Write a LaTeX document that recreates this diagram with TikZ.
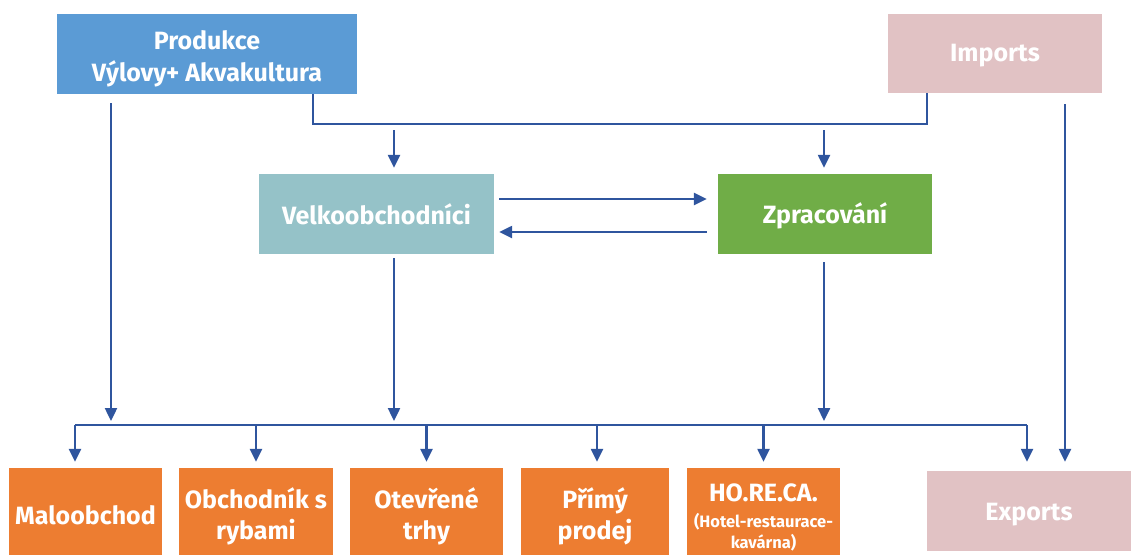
\documentclass[tikz,border=0pt]{standalone}
\usepackage{fontspec}
\setmainfont{Fira Sans}
\usetikzlibrary{arrows.meta}
\definecolor{prodblue}{HTML}{5B9BD5}
\definecolor{velkoteal}{HTML}{95C2C8}
\definecolor{zpracgreen}{HTML}{70AD47}
\definecolor{shoporange}{HTML}{ED7D31}
\definecolor{tradepink}{HTML}{E1C2C4}
\definecolor{arrowblue}{HTML}{2F559E}
\newcommand{\mydown}[2]{\raisebox{-#1}[\height][\depth]{#2}}
\begin{document}
\begin{tikzpicture}[x=1pt,y=-1pt,
  box/.style={draw=none, text=white, align=center, inner sep=0pt,
    font=\bfseries\fontsize{25}{32}\selectfont},
  shopbox/.style={box, fill=shoporange, minimum width=153pt, minimum height=87pt,
    font=\bfseries\fontsize{25}{31}\selectfont},
  arr/.style={draw=arrowblue, line width=2.4pt, -{Triangle[width=12pt,length=13pt]}},
  feed/.style={draw=arrowblue, line width=1.5pt},
]
\useasboundingbox (0,0) rectangle (1131,555);

% top boxes
\node[box, fill=prodblue, minimum width=300pt, minimum height=80pt] (prod) at (207,54)
  {\mydown{4.5pt}{Produkce}\\\mydown{4.5pt}{Výlovy+ Akvakultura}};
\node[box, fill=tradepink, minimum width=214pt, minimum height=79pt] (imp) at (995,53.5) {\mydown{2.5pt}{Imports}};

% middle boxes
\node[box, fill=velkoteal, minimum width=235pt, minimum height=80pt] (velko) at (376.5,214) {Velkoobchodníci};
\node[box, fill=zpracgreen, minimum width=214pt, minimum height=80pt] (zprac) at (825,214) {\mydown{2pt}{Zpracování}};

% bottom boxes
\node[shopbox] (malo) at (85.5,511.5) {\mydown{4pt}{Maloobchod}};
\node[shopbox, minimum width=154pt] (obch) at (256,511.5) {\mydown{4.5pt}{Obchodník s}\\\mydown{4.5pt}{rybami}};
\node[shopbox] (otev) at (426.5,511.5) {\mydown{4.5pt}{Otevřené}\\\mydown{4.5pt}{trhy}};
\node[shopbox, minimum width=148pt] (prim) at (595,511.5) {\mydown{4.5pt}{Přímý}\\\mydown{4.5pt}{prodej}};
\node[shopbox] (horeca) at (763.5,511.5)
  {\mydown{6pt}{HO.RE.CA.}\\[-5pt]\mydown{6pt}{\fontsize{16.5}{20}\selectfont (Hotel-restaurace-}\\[-10pt]\mydown{6pt}{\fontsize{16.5}{20}\selectfont kavárna)}};
\node[box, fill=tradepink, minimum width=204pt, minimum height=80pt] (exp) at (1029,511) {\mydown{3.5pt}{Exports}};

% feed line from production and imports
\coordinate (fL) at (313,124);
\coordinate (fR) at (927,124);
\draw[feed] (prod.south -| fL) -- (fL) -- (fR) -- (imp.south -| fR);
\coordinate (vIn) at (394,130);
\coordinate (zIn) at (824,130);
\draw[arr, shorten >=6pt] (vIn) -- (vIn |- velko.north);
\draw[arr, shorten >=6pt] (zIn) -- (zIn |- zprac.north);

% exchange between wholesalers and processing
\draw[arr, shorten <=5pt, shorten >=11pt] ([yshift=15pt]velko.east) -- ([yshift=15pt]velko.east -| zprac.west);
\draw[arr, shorten <=11pt, shorten >=5pt] ([yshift=-18pt]velko.east -| zprac.west) -- ([yshift=-18pt]velko.east);

% bus
\coordinate (busL) at (75,425);
\coordinate (busR) at (1027,425);
\draw[feed] (busL) -- (busR);

\coordinate (pDown) at (111,0);
\coordinate (vDown) at (394,0);
\coordinate (zDown) at (824,0);
\draw[arr, shorten <=9pt, shorten >=4pt] (prod.south -| pDown) -- (pDown |- busL);
\draw[arr, shorten <=4pt, shorten >=4pt] (velko.south -| vDown) -- (vDown |- busL);
\draw[arr, shorten <=8pt, shorten >=4pt] (zprac.south -| zDown) -- (zDown |- busL);
\coordinate (iDown) at (1065,0);
\draw[arr, shorten <=11pt, shorten >=9pt] (imp.south -| iDown) -- (iDown |- exp.north);

% branches
\draw[arr, shorten >=6pt] (busL) -- (busL |- malo.north);
\draw[arr, shorten >=6pt] (obch.north |- busL) -- (obch.north);
\draw[arr, shorten >=6pt] (otev.north |- busL) -- (otev.north);
\draw[arr, shorten >=6pt] ([xshift=2pt]prim.north |- busL) -- ([xshift=2pt]prim.north);
\draw[arr, shorten >=6pt] (horeca.north |- busL) -- (horeca.north);
\draw[arr, shorten >=9pt] (busR) -- (busR |- exp.north);
\end{tikzpicture}
\end{document}
